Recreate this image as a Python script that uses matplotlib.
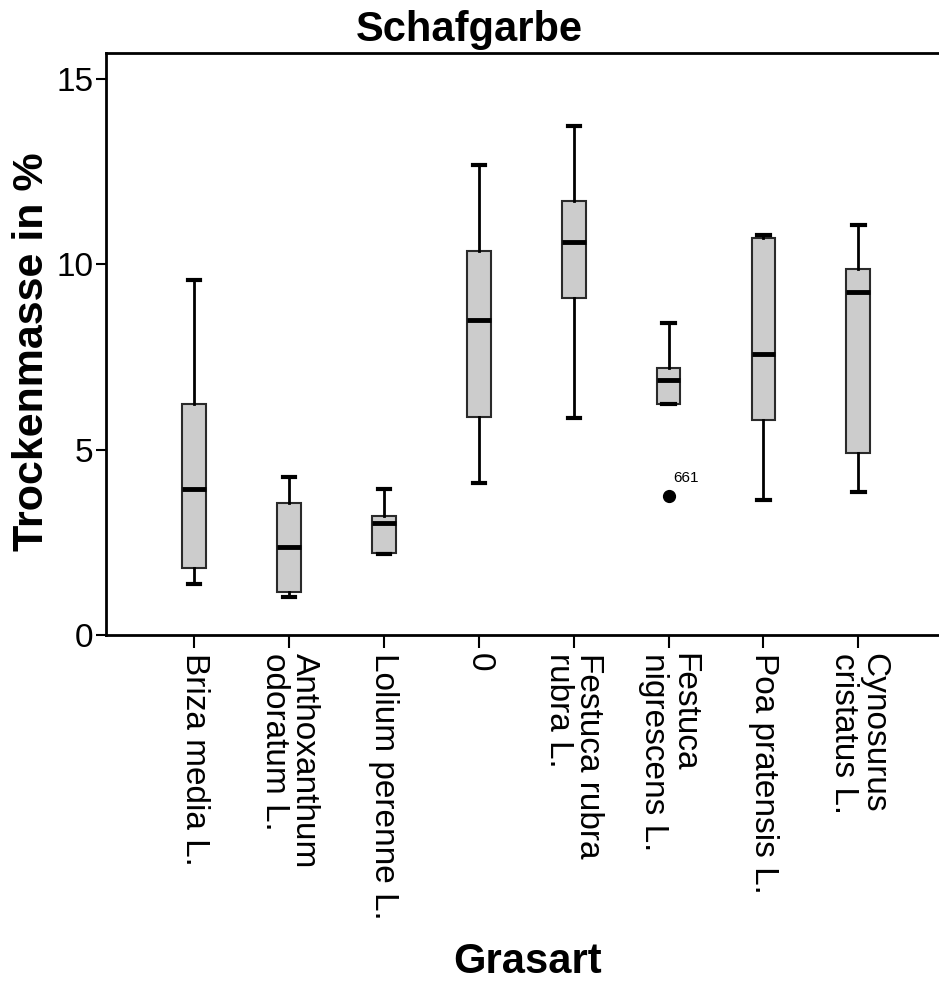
import matplotlib
matplotlib.use("Agg")
import matplotlib.pyplot as plt

plt.rcParams['font.family'] = ['Liberation Sans', 'DejaVu Sans']

# Grasarten (x-axis categories)
labels = ['Briza media L.', 'Anthoxanthum\nodoratum L.', 'Lolium perenne L.', '0',
          'Festuca rubra\nrubra L.', 'Festuca\nnigrescens L.', 'Poa pratensis L.',
          'Cynosurus\ncristatus L.']

# box statistics (Trockenmasse in %)
whis_lo = [1.37, 1.02, 2.18, 4.10, 5.85, 6.23, 3.64, 3.85]
q1 = [1.81, 1.16, 2.21, 5.87, 9.08, 6.23, 5.81, 4.90]
med = [3.94, 2.37, 3.02, 8.49, 10.60, 6.87, 7.57, 9.26]
q3 = [6.23, 3.56, 3.21, 10.36, 11.72, 7.20, 10.72, 9.86]
whis_hi = [9.57, 4.26, 3.94, 12.67, 13.73, 8.41, 10.78, 11.07]
outliers = [[], [], [], [], [], [3.75], [], []]
outlier_ids = [[], [], [], [], [], ['661'], [], []]

stats = []
for i in range(len(labels)):
    stats.append({'whislo': whis_lo[i], 'q1': q1[i], 'med': med[i], 'q3': q3[i],
                  'whishi': whis_hi[i], 'fliers': outliers[i]})

fig = plt.figure(figsize=(9.39, 9.85), dpi=100)
ax = fig.add_axes([0.1129, 0.3553, 0.8871, 0.5909])

pos = list(range(1, len(labels) + 1))
ax.bxp(stats, positions=pos, widths=0.25, capwidths=0.13, patch_artist=True,
       boxprops=dict(facecolor='#cccccc', edgecolor='#2a2a2a', linewidth=1.5),
       medianprops=dict(color='black', linewidth=3.5),
       whiskerprops=dict(color='black', linewidth=2),
       capprops=dict(color='black', linewidth=3),
       flierprops=dict(marker='o', markerfacecolor='black', markeredgecolor='black',
                       markersize=8.5))

for i, ids in enumerate(outlier_ids):
    for val, name in zip(outliers[i], ids):
        ax.annotate(name, (pos[i], val), xytext=(3, 10), textcoords='offset points',
                    fontsize=11)

ax.set_xlim(0.07, 8.85)
ax.set_ylim(0, 15.7)
ax.set_yticks([0, 5, 10, 15])
ax.set_xticks(pos)
ax.set_xticklabels(labels, rotation=270, ha='center', va='top', fontsize=24,
                   multialignment='left', linespacing=0.95)
ax.tick_params(axis='y', labelsize=24, length=7, width=1.5, pad=2)
ax.tick_params(axis='x', length=9, width=1.5, pad=4)

for s in ['left', 'bottom', 'top']:
    ax.spines[s].set_linewidth(2)
ax.spines['right'].set_visible(False)

ax.set_ylabel('Trockenmasse in %', fontsize=31, fontweight='bold')
ax.yaxis.set_label_coords(-0.065, 0.486)
fig.text(0.5615, 0.012, 'Grasart', fontsize=30, fontweight='bold', ha='center')
fig.text(0.5, 0.97, 'Schafgarbe', fontsize=30, fontweight='bold', ha='center', va='center')

fig.savefig('out.png', dpi=100)
